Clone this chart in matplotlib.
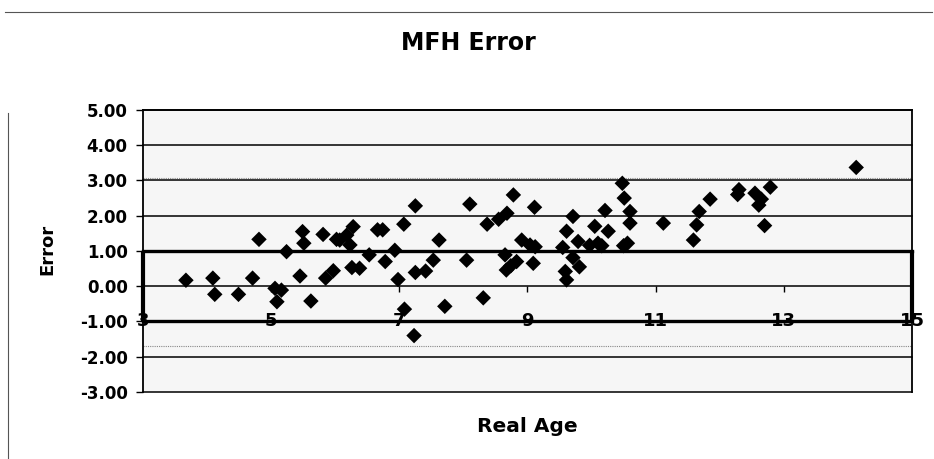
import matplotlib
matplotlib.use("Agg")
import matplotlib.pyplot as plt
from matplotlib.lines import Line2D

# ---- data ----
real_age = [3.67, 4.09, 4.12, 4.49, 4.71, 4.81, 5.06, 5.16, 5.09, 5.24,
            5.45, 5.49, 5.51, 5.62, 5.81, 5.85, 5.97, 6.02, 6.07, 6.18,
            6.23, 6.28, 6.26, 6.38, 6.53, 6.66, 6.74, 6.78, 6.93, 7.07,
            6.98, 7.25, 7.25, 7.41, 7.08, 7.23, 7.53, 7.62, 7.71, 8.05,
            8.10, 8.31, 8.37, 8.55, 8.68, 8.78, 8.91, 9.04, 9.12, 8.67,
            8.83, 9.09, 8.65, 8.74, 9.11, 9.71, 9.61, 9.55, 9.79, 9.71,
            9.81, 9.59, 9.61, 9.97, 10.10, 10.16, 10.05, 10.21, 10.26, 10.48,
            10.51, 10.60, 10.60, 10.50, 10.56, 11.12, 11.59, 11.64, 11.68, 11.85,
            12.28, 12.30, 12.55, 12.65, 12.61, 12.79, 12.70, 14.13]
error = [0.17, 0.23, -0.23, -0.23, 0.23, 1.33, -0.06, -0.11, -0.44, 0.98,
         0.29, 1.55, 1.22, -0.42, 1.47, 0.23, 0.44, 1.33, 1.31, 1.45,
         1.17, 1.69, 0.53, 0.51, 0.89, 1.60, 1.60, 0.70, 1.02, 1.76,
         0.19, 2.28, 0.39, 0.43, -0.65, -1.40, 0.74, 1.31, -0.57, 0.74,
         2.33, -0.33, 1.76, 1.90, 2.07, 2.59, 1.31, 1.17, 1.12, 0.46,
         0.70, 0.65, 0.89, 0.58, 2.24, 1.98, 1.56, 1.10, 1.27, 0.81,
         0.55, 0.42, 0.18, 1.16, 1.22, 1.15, 1.70, 2.15, 1.56, 2.92,
         2.50, 2.12, 1.79, 1.15, 1.22, 1.79, 1.31, 1.74, 2.12, 2.47,
         2.60, 2.74, 2.64, 2.47, 2.30, 2.81, 1.72, 3.37]

x_ticks = [3, 5, 7, 9, 11, 13, 15]
y_ticks = [-3, -2, -1, 0, 1, 2, 3, 4, 5]

title = "MFH Error"
x_label = "Real Age"
y_label = "Error"

# ---- figure ----
fig = plt.figure(figsize=(9.34, 4.59), dpi=100)
fig.patch.set_facecolor("white")
ax = fig.add_axes([0.1531, 0.1460, 0.8233, 0.6144])
ax.set_facecolor("#f6f6f6")
ax.set_xlim(x_ticks[0], x_ticks[-1])
ax.set_ylim(y_ticks[0], y_ticks[-1])

# gridlines
for yv in y_ticks:
    lw = 2.4 if yv in (1, -1) else 1.1
    ax.axhline(yv, color="black", lw=lw, zorder=1, clip_on=False)
# scan artifact dotted lines
ax.axhline(3.07, color="#888888", lw=0.8, ls=(0, (1, 1)), zorder=1)
ax.axhline(-1.69, color="#888888", lw=0.8, ls=(0, (1, 1)), zorder=1)
# thick box between -1 and 1
ax.vlines([x_ticks[0], x_ticks[-1]], -1, 1, colors="black", lw=3, zorder=2,
          clip_on=False)

# data
ax.scatter(real_age, error, marker="D", s=62, color="black", zorder=5,
           edgecolors="none")

# spines
for s in ("left", "right", "top"):
    ax.spines[s].set_linewidth(1.3)
    ax.spines[s].set_color("black")
ax.spines["bottom"].set_position(("data", 0))
ax.spines["bottom"].set_visible(False)

# y ticks
ax.set_yticks(y_ticks)
ax.set_yticklabels([f"{v:.2f}" for v in y_ticks], fontsize=12,
                   fontweight="bold", family="DejaVu Sans")
ax.tick_params(axis="y", direction="out", length=5, width=1, pad=6)

# x ticks: marks on y=0 line, labels centred on y=-1 line
ax.set_xticks(x_ticks)
ax.tick_params(axis="x", direction="out", length=4, width=1,
               labelbottom=False)
for t in x_ticks:
    ax.text(t, -1, str(t), ha="center", va="center", fontsize=13,
            fontweight="bold", family="DejaVu Sans", zorder=6)

# labels
fig.text(0.5011, 1 - 43 / 459, title, ha="center", va="center",
         fontsize=17, fontweight="bold", family="DejaVu Sans")
fig.text(527 / 934, 1 - 427 / 459, x_label, ha="center", va="center",
         fontsize=14.5, fontweight="bold", family="DejaVu Sans")
fig.text(47 / 934, 1 - 249 / 459, y_label, ha="center", va="center",
         rotation=90, fontsize=13, fontweight="bold", family="DejaVu Sans")

# page artifacts (scan border lines)
fig.add_artist(Line2D([0.005, 0.998], [1 - 12 / 459, 1 - 12 / 459],
                      color="#555555", lw=0.8, transform=fig.transFigure))
fig.add_artist(Line2D([8 / 934, 8 / 934], [1 - 113 / 459, 0.0],
                      color="#555555", lw=0.8, transform=fig.transFigure))

fig.savefig("out.png", dpi=100, facecolor="white")
